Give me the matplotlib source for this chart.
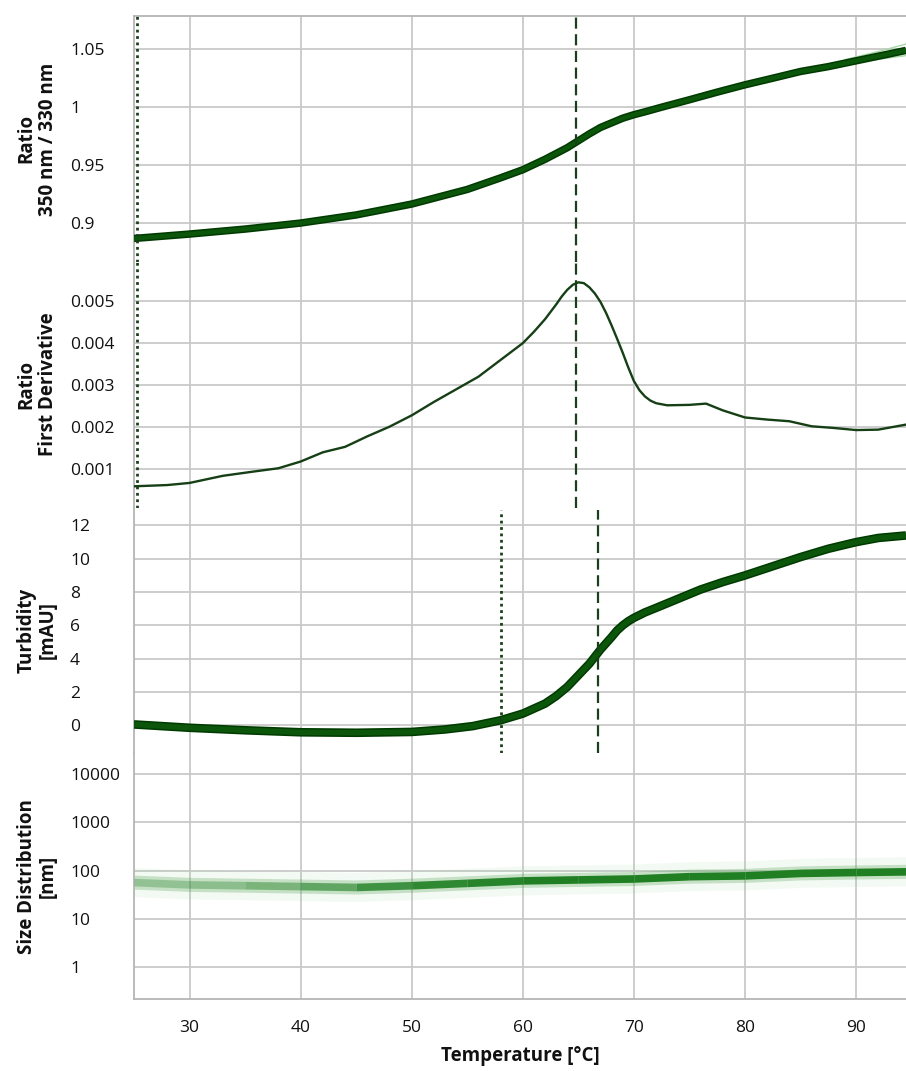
import matplotlib
matplotlib.use("Agg")
import matplotlib.pyplot as plt
import numpy as np
from matplotlib.ticker import FixedLocator, FixedFormatter, NullLocator

# ---------------- data ----------------
ratio_T = [25, 30, 35, 40, 45, 50, 55, 58, 60, 62, 64, 65, 66, 67, 68, 69, 70, 71,
           72.5, 75, 77.5, 80, 82.5, 85, 87.5, 90, 92, 94.5]
ratio = [0.8867, 0.8905, 0.8948, 0.900, 0.907, 0.9164, 0.929, 0.939, 0.946, 0.955,
         0.965, 0.971, 0.977, 0.9825, 0.9865, 0.9905, 0.9935, 0.996, 1.0, 1.0064,
         1.013, 1.0193, 1.025, 1.0308, 1.035, 1.0400, 1.044, 1.049]
ratio_up_T = [89, 92, 94.5]
ratio_up = [1.041, 1.048, 1.0545]
ratio_lo_T = [88, 91, 94.5]
ratio_lo = [1.036, 1.040, 1.0445]

deriv_T = [25, 28, 30, 33, 36, 38, 40, 42, 44, 46, 48, 50, 52, 54, 55, 56, 58, 60, 61,
           62, 63, 63.5, 64, 64.5, 65, 65.5, 66, 66.5, 67, 67.5, 68, 68.5, 69, 69.5,
           70, 70.5, 71, 71.5, 72, 73, 75, 76.5, 78, 80, 82, 84, 86, 88, 90, 92, 94.5]
deriv = [0.00059, 0.00062, 0.00067, 0.00084, 0.00095, 0.00102, 0.00118, 0.0014,
         0.00153, 0.00178, 0.00201, 0.00228, 0.0026, 0.0029, 0.00305, 0.0032,
         0.0036, 0.0040, 0.00427, 0.00457, 0.00492, 0.00511, 0.00527, 0.00539,
         0.00545, 0.00543, 0.00533, 0.00518, 0.00498, 0.00472, 0.00442, 0.0041,
         0.00377, 0.00342, 0.00310, 0.00288, 0.00273, 0.00263, 0.00257, 0.00252,
         0.00253, 0.00256, 0.0024, 0.00223, 0.00218, 0.00214, 0.00202, 0.00198,
         0.00193, 0.00194, 0.00206]

turb_T = [25, 27.5, 30, 35, 40, 45, 50, 53, 55.5, 58, 60, 62, 63, 64, 65, 66, 67, 68,
          68.5, 69, 69.5, 70, 71, 72, 74, 76, 78, 80, 82.5, 85, 87.5, 90, 92, 94.5]
turb = [0.05, -0.05, -0.15, -0.3, -0.42, -0.45, -0.4, -0.25, -0.05, 0.3, 0.7, 1.3,
        1.75, 2.3, 3.0, 3.7, 4.55, 5.3, 5.7, 6.0, 6.25, 6.45, 6.78, 7.05, 7.6, 8.15,
        8.6, 9.0, 9.55, 10.1, 10.6, 11.0, 11.25, 11.4]

size_T = [25, 30, 35, 40, 45, 50, 55, 60, 65, 70, 75, 80, 85, 90, 94.5]
size_nm = [58, 52, 50, 48, 46, 50, 56, 63, 66, 69, 77, 80, 90, 94, 97]
size_alpha = [0.3, 0.35, 0.45, 0.6, 0.8, 0.9, 0.95, 1.0, 1.0, 1.0, 1.0, 1.0, 1.0,
              1.0, 1.0]

# marker temperatures
ratio_onset = 25.25
ratio_ip = 64.75
turb_onset = 58.0
turb_ip = 66.8

ratio_ticks = [0.9, 0.95, 1.0, 1.05]
ratio_labels = ["0.9", "0.95", "1", "1.05"]
deriv_ticks = [0.001, 0.002, 0.003, 0.004, 0.005]
deriv_labels = ["0.001", "0.002", "0.003", "0.004", "0.005"]
turb_ticks = [0, 2, 4, 6, 8, 10, 12]
turb_labels = ["0", "2", "4", "6", "8", "10", "12"]
size_ticks = [1, 10, 100, 1000, 10000]
size_labels = ["1", "10", "100", "1000", "10000"]
x_ticks = [30, 40, 50, 60, 70, 80, 90]

# ---------------- style ----------------
plt.rcParams['font.family'] = ['Open Sans', 'DejaVu Sans']
W, H = 906, 1071
fig = plt.figure(figsize=(W / 100, H / 100), dpi=100)
gs = fig.add_gridspec(4, 1, hspace=0, left=134 / W, right=1.0,
                      top=1 - 16 / H, bottom=1 - 999 / H)
axes = [fig.add_subplot(gs[i]) for i in range(4)]
for a in axes[1:]:
    a.sharex(axes[0])

grid_c = '#c9c9c9'
spine_c = '#b5b5b5'
dark = '#0b560b'
line_dark = '#163f16'
vline_c = '#1b3f1b'

ylabels = ["Ratio\n350 nm / 330 nm", "Ratio\nFirst Derivative",
           "Turbidity\n[mAU]", "Size Distribution\n[nm]"]

for i, a in enumerate(axes):
    a.set_xlim(25, 94.5)
    a.xaxis.set_major_locator(FixedLocator(x_ticks))
    a.grid(True, color=grid_c, lw=1.3, zorder=0)
    a.set_axisbelow(True)
    for s in a.spines.values():
        s.set_visible(False)
    a.spines['left'].set_visible(True)
    a.spines['left'].set_color(spine_c)
    a.spines['left'].set_linewidth(1.3)
    a.tick_params(length=0, labelsize=12.5, colors='#111111')
    a.tick_params(axis='y', pad=46)
    if i < 3:
        a.tick_params(axis='x', labelbottom=False)
    a.set_ylabel(ylabels[i], fontsize=13.5, fontweight='bold',
                 linespacing=1.1, va='center', color='#111111')
    a.yaxis.set_label_coords(-0.125, 0.5)

axes[0].spines['top'].set_visible(True)
axes[0].spines['top'].set_color(spine_c)
axes[0].spines['top'].set_linewidth(1.3)
axes[3].spines['bottom'].set_visible(True)
axes[3].spines['bottom'].set_color(spine_c)
axes[3].spines['bottom'].set_linewidth(1.3)

# panel 1
a = axes[0]
a.plot(ratio_up_T, ratio_up, color='#a8d8a8', lw=1.0, zorder=2)
a.plot(ratio_lo_T, ratio_lo, color='#a8d8a8', lw=1.0, zorder=2)
a.plot(ratio_T, ratio, color='#003a00', lw=5.4, solid_capstyle='butt', zorder=3)
a.plot(ratio_T, ratio, color=dark, lw=3.2, solid_capstyle='butt', zorder=3)
a.set_ylim(0.8666, 1.0787)
a.yaxis.set_major_locator(FixedLocator(ratio_ticks))
a.yaxis.set_major_formatter(FixedFormatter(ratio_labels))

# panel 2
a = axes[1]
a.plot(deriv_T, deriv, color=line_dark, lw=1.7, zorder=3)
a.set_ylim(0.000085, 0.00594)
a.yaxis.set_major_locator(FixedLocator(deriv_ticks))
a.yaxis.set_major_formatter(FixedFormatter(deriv_labels))

for a in axes[:2]:
    a.axvline(ratio_onset, color=vline_c, lw=2.0, ls=(0, (1, 1.3)), zorder=4)
    a.axvline(ratio_ip, color=vline_c, lw=1.6, ls=(0, (5, 2.5)), zorder=4)

# panel 3
a = axes[2]
a.plot(turb_T, turb, color='#003a00', lw=6.2, solid_capstyle='butt', zorder=3)
a.plot(turb_T, turb, color=dark, lw=4.0, solid_capstyle='butt', zorder=3)
a.set_ylim(-1.68, 13.08)
a.yaxis.set_major_locator(FixedLocator(turb_ticks))
a.yaxis.set_major_formatter(FixedFormatter(turb_labels))
a.axvline(turb_onset, ymin=0.0, ymax=0.99, color=vline_c, lw=2.0,
          ls=(0, (1, 1.3)), zorder=4)
a.axvline(turb_ip, ymin=0.0, ymax=0.99, color=vline_c, lw=1.6,
          ls=(0, (5, 2.5)), zorder=4)

# panel 4
a = axes[3]
a.set_yscale('log')
sT = np.array(size_T)
sN = np.array(size_nm)
a.fill_between(sT, sN / 2.0, sN * 2.0, color='#8fcf8f', alpha=0.10, lw=0, zorder=2)
a.fill_between(sT, sN / 1.4, sN * 1.4, color='#4fa04f', alpha=0.28, lw=0, zorder=2)
for k in range(len(sT) - 1):
    seg = slice(k, k + 2)
    a.fill_between(sT[seg], sN[seg] / 1.2, sN[seg] * 1.2, color='#1f7f22',
                   alpha=size_alpha[k], lw=0, zorder=3)
a.set_ylim(0.219, 27200)
a.yaxis.set_major_locator(FixedLocator(size_ticks))
a.yaxis.set_major_formatter(FixedFormatter(size_labels))
a.yaxis.set_minor_locator(NullLocator())
a.tick_params(axis='x', pad=15)
a.set_xticklabels([str(t) for t in x_ticks])
a.set_xlabel("Temperature [°C]", fontsize=13.5, fontweight='bold', color='#111111',
             va='center')
a.xaxis.set_label_coords(0.5, -0.232)

for a in axes:
    for lab in a.get_yticklabels():
        lab.set_horizontalalignment('left')

fig.savefig("out.png", dpi=100)
